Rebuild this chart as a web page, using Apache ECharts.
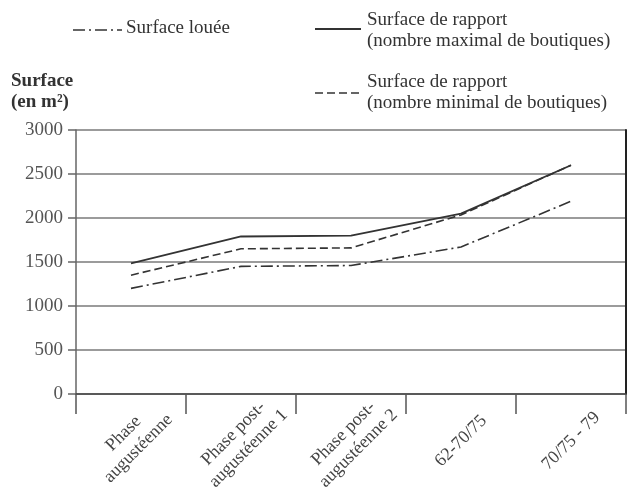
<!DOCTYPE html>
<html>
<head>
<meta charset="utf-8">
<script src="https://cdn.jsdelivr.net/npm/echarts@6/dist/echarts.min.js"></script>
<style>
  html, body { margin: 0; padding: 0; background: #fff; }
  #chart { width: 630px; height: 498px; }
</style>
</head>
<body>
<div id="chart"></div>
<script>
// Phases of occupation
const categories = [
  'Phase\naugustéenne',
  'Phase post-\naugustéenne 1',
  'Phase post-\naugustéenne 2',
  '62-70/75',
  '70/75 - 79'
];

// Surface in m² per phase
const surfaceLouee = [1200, 1450, 1460, 1670, 2190];
const surfaceRapportMax = [1485, 1790, 1800, 2050, 2600];
const surfaceRapportMin = [1350, 1650, 1660, 2035, 2600];

const yTicks = { min: 0, max: 3000, interval: 500 };

const seriesNames = [
  'Surface louée',
  'Surface de rapport\n(nombre maximal de boutiques)',
  'Surface de rapport\n(nombre minimal de boutiques)'
];

const FONT = '"Liberation Serif", "DejaVu Serif", serif';
const INK = '#333';
const DASH_DOT = [12, 4, 2, 4];
const DASHED = [8, 4];

const chart = echarts.init(document.getElementById('chart'), null, { renderer: 'canvas' });

chart.setOption({
  backgroundColor: '#fff',
  animation: false,
  grid: { left: 76, right: 4, top: 130, bottom: 104, containLabel: false },
  xAxis: {
    type: 'category',
    data: categories,
    boundaryGap: true,
    axisLine: { show: true, lineStyle: { color: '#444', width: 1.5 } },
    axisTick: { show: true, length: 20, lineStyle: { color: '#555', width: 1.5 } },
    axisLabel: {
      rotate: 45,
      align: 'center',
      verticalAlign: 'middle',
      margin: 47,
      interval: 0,
      fontFamily: FONT,
      fontSize: 18,
      lineHeight: 21,
      color: '#444'
    },
    splitLine: { show: false }
  },
  yAxis: [{
    type: 'value',
    min: yTicks.min,
    max: yTicks.max,
    interval: yTicks.interval,
    axisLine: { show: true, lineStyle: { color: '#666', width: 1.5 } },
    axisTick: { show: true, length: 8, lineStyle: { color: '#666', width: 1.5 } },
    axisLabel: {
      margin: 13, fontFamily: FONT, fontSize: 19, color: '#555',
      formatter: (v) => String(v)
    },
    splitLine: { show: true, lineStyle: { color: '#7a7a7a', width: 1.5 } }
  }, {
    type: 'value',
    position: 'right',
    min: yTicks.min,
    max: yTicks.max,
    interval: yTicks.interval,
    axisLine: { show: true, lineStyle: { color: '#222', width: 2 } },
    axisTick: { show: false },
    axisLabel: { show: false },
    splitLine: { show: false }
  }],
  series: [
    {
      name: seriesNames[0],
      type: 'line',
      data: surfaceLouee,
      symbol: 'none',
      lineStyle: { color: INK, width: 1.6, type: DASH_DOT }
    },
    {
      name: seriesNames[2],
      type: 'line',
      data: surfaceRapportMin,
      symbol: 'none',
      lineStyle: { color: INK, width: 1.6, type: DASHED }
    },
    {
      name: seriesNames[1],
      type: 'line',
      data: surfaceRapportMax,
      symbol: 'none',
      lineStyle: { color: INK, width: 1.8, type: 'solid' }
    }
  ],
  graphic: [
    // Y axis title
    {
      type: 'text', left: 11, top: 71,
      style: { text: 'Surface\n(en m²)', font: 'bold 19px ' + FONT, lineHeight: 21, fill: '#333' }
    },
    // Legend: Surface louée
    {
      type: 'line', shape: { x1: 73, y1: 30, x2: 122, y2: 30 },
      style: { stroke: INK, lineWidth: 1.6, lineDash: DASH_DOT }
    },
    {
      type: 'text', left: 126, top: 19,
      style: { text: seriesNames[0], font: '19px ' + FONT, fill: '#333' }
    },
    // Legend: maximal
    {
      type: 'line', shape: { x1: 315, y1: 29, x2: 361, y2: 29 },
      style: { stroke: INK, lineWidth: 1.8 }
    },
    {
      type: 'text', left: 367, top: 10,
      style: { text: seriesNames[1], font: '19px ' + FONT, lineHeight: 21, fill: '#333' }
    },
    // Legend: minimal
    {
      type: 'line', shape: { x1: 315, y1: 93, x2: 362, y2: 93 },
      style: { stroke: INK, lineWidth: 1.6, lineDash: DASHED }
    },
    {
      type: 'text', left: 367, top: 72,
      style: { text: seriesNames[2], font: '19px ' + FONT, lineHeight: 21, fill: '#333' }
    }
  ]
});
</script>
</body>
</html>
